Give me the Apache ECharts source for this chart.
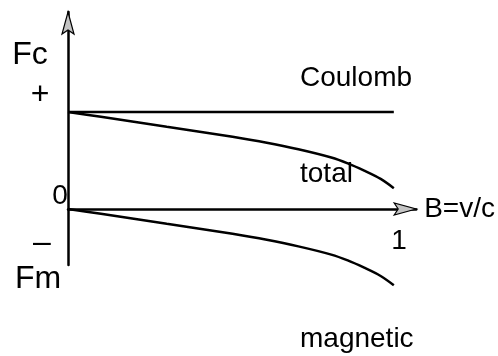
<!DOCTYPE html>
<html>
<head>
<meta charset="utf-8">
<script src="https://cdn.jsdelivr.net/npm/echarts@6/dist/echarts.min.js"></script>
<style>
  html, body { margin: 0; padding: 0; background: #ffffff; }
  #chart { width: 498px; height: 356px; }
</style>
</head>
<body>
<div id="chart"></div>
<script>
// Force components against speed ratio B = v/c
const beta     = [0, 0.1, 0.2, 0.3, 0.4, 0.5, 0.6, 0.7, 0.8, 0.85, 0.9, 0.95, 0.99];
const coulomb  = [1, 1, 1, 1, 1, 1, 1, 1, 1, 1, 1, 1, 1];
const magnetic = [0, -0.05, -0.10, -0.152, -0.203, -0.256, -0.315, -0.385, -0.47, -0.53, -0.605, -0.69, -0.785];
const total    = [1, 0.95, 0.90, 0.848, 0.797, 0.744, 0.685, 0.615, 0.53, 0.47, 0.395, 0.31, 0.215];
const xTickValues = [1];
const xTickLabels = ['1'];

const FONT = '"Liberation Sans", Arial, Helvetica, sans-serif';
const X_END = 1.058;   // axis runs past B = 1 to the arrow tip
const Y_END = 2.03;
const Y_START = -0.577;

const pairs = (ys) => beta.map((b, i) => [b, ys[i]]);

const chart = echarts.init(document.getElementById('chart'), null, { renderer: 'canvas' });

const curve = (name, ys, smooth) => ({
  name, type: 'line', data: pairs(ys), smooth,
  symbol: 'none', silent: true, animation: false, clip: false,
  lineStyle: { color: '#000', width: 2.5 }
});

chart.setOption({
  backgroundColor: '#ffffff',
  animation: false,
  grid: { left: 68, right: 498 - 68 - 330 * X_END, top: 12, bottom: 91, containLabel: false },
  xAxis: {
    type: 'value', min: 0, max: X_END, interval: 1,
    name: 'B=v/c', nameLocation: 'end', nameGap: 8,
    nameTextStyle: { fontFamily: FONT, fontSize: 28, color: '#000', align: 'left', verticalAlign: 'middle' },
    axisLine: { onZero: true, lineStyle: { color: '#000', width: 2.5 } },
    axisTick: { show: false },
    splitLine: { show: false },
    axisLabel: { show: false }
  },
  yAxis: {
    type: 'value', min: Y_START, max: Y_END,
    axisLine: { onZero: false, lineStyle: { color: '#000', width: 2.5 } },
    axisTick: { show: false },
    splitLine: { show: false },
    axisLabel: { show: false }
  },
  series: [
    curve('Coulomb', coulomb, false),
    curve('total', total, 0.3),
    curve('magnetic', magnetic, 0.3)
  ]
});

// Arrowheads at the axis ends, plus the text annotations
function arrowHead(tip, dir) {
  // dir: unit vector pointing along the axis toward the tip
  const L = 22, W = 6, N = 18;
  const px = -dir[1], py = dir[0];
  return {
    type: 'polygon', silent: true, z: 10,
    shape: { points: [
      tip,
      [tip[0] - dir[0] * L + px * W, tip[1] - dir[1] * L + py * W],
      [tip[0] - dir[0] * N, tip[1] - dir[1] * N],
      [tip[0] - dir[0] * L - px * W, tip[1] - dir[1] * L - py * W]
    ] },
    style: { fill: '#c4c4c4', stroke: '#000', lineWidth: 1.2 }
  };
}

const xTip = chart.convertToPixel({ gridIndex: 0 }, [X_END, 0]);
const yTip = chart.convertToPixel({ gridIndex: 0 }, [0, Y_END]);

const txt = (text, x, y, size, align) => ({
  type: 'text', silent: true, z: 10, x, y,
  style: { text, fontFamily: FONT, fontSize: size, fill: '#000', align: align || 'center', verticalAlign: 'middle' }
});

// tick labels on the B axis, placed below the axis line
const tickTexts = xTickValues.map((v, i) => {
  const p = chart.convertToPixel({ gridIndex: 0 }, [v, 0]);
  return txt(xTickLabels[i], p[0] + 2, p[1] + 32, 28);
});

chart.setOption({
  graphic: [
    arrowHead(xTip, [1, 0]),
    arrowHead(yTip, [0, -1]),
    txt('Fc', 30, 55, 32),
    txt('+', 40, 95, 32),
    txt('0', 60, 196, 28),
    txt('–', 42, 243, 32),
    txt('Fm', 38, 279, 32),
    txt('Coulomb', 300, 78, 28, 'left'),
    txt('total', 300, 174, 28, 'left'),
    txt('magnetic', 300, 339, 28, 'left')
  ].concat(tickTexts)
});
</script>
</body>
</html>
